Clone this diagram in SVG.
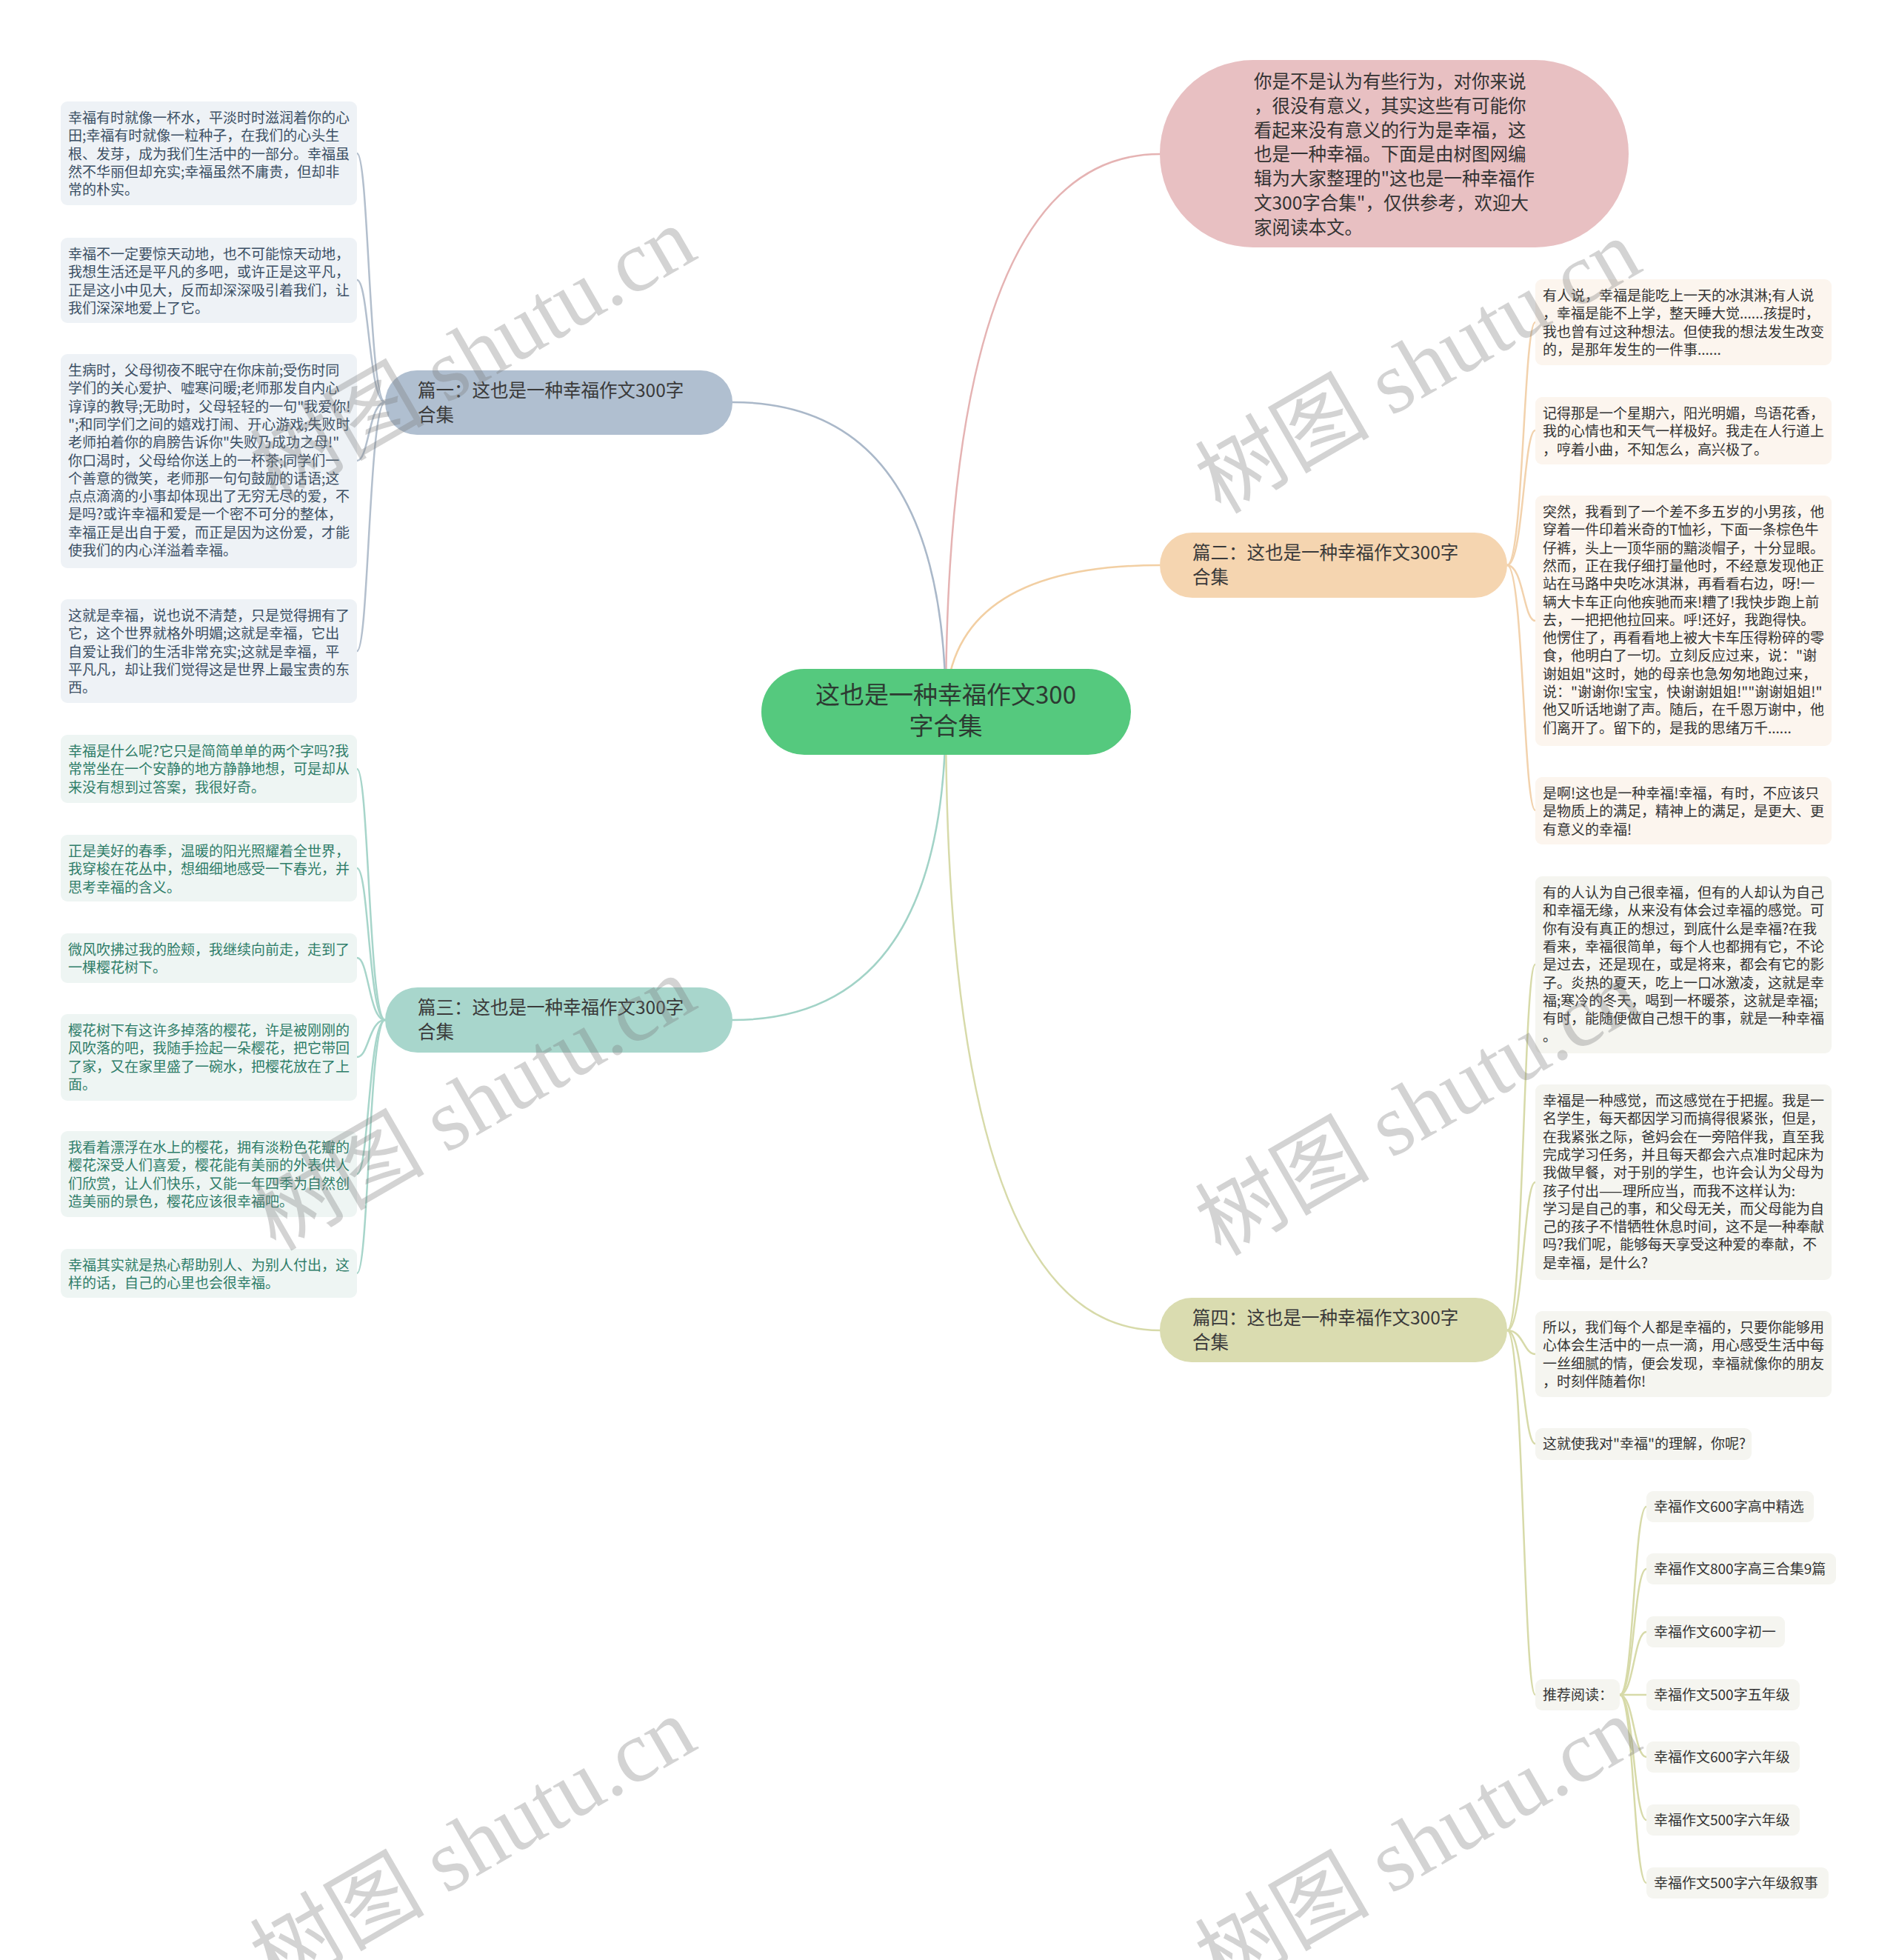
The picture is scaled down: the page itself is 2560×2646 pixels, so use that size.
<svg xmlns="http://www.w3.org/2000/svg" width="2560" height="2646" viewBox="0 0 2560 2646">
<style>
.t{font-family:"Noto Sans CJK SC","Noto Sans",sans-serif;font-size:19px}
.s1{fill:#3b4f64}
.s3{fill:#2f7d69}
.dk{fill:#333333}
.br{font-family:"Noto Sans CJK SC","Noto Sans",sans-serif;font-size:24.5px;fill:#3a3a3a}
.l1{fill:#eef2f6}
.l3{fill:#eef5f3}
.l2{fill:#fcf5ee}
.l4{fill:#f5f5f0}
.c{fill:none;stroke-width:2.5;stroke-linecap:round}
.wm{font-family:"Liberation Serif","Noto Sans CJK SC",serif;font-size:118px;fill:#787878;fill-opacity:0.33}
</style>
<rect width="2560" height="2646" fill="#ffffff"/>
<g id="connectors">
<path class="c" stroke="#e5b3b3" d="M1277 961 Q1277 208 1566 208"/>
<path class="c" stroke="#aab8c9" d="M1277 961 Q1277 543 989 543"/>
<path class="c" stroke="#f2cfa3" d="M1277 961 Q1277 763 1566 763"/>
<path class="c" stroke="#a2d3c7" d="M1277 961 Q1277 1377 989 1377"/>
<path class="c" stroke="#d7daa9" d="M1277 961 Q1277 1796 1566 1796"/>
<g stroke="#b3bfcd" class="c" stroke-width="2">
<path d="M520 543 C498 543 498 207 482 207"/>
<path d="M520 543 C498 543 498 378 482 378"/>
<path d="M520 543 C498 543 498 622 482 622"/>
<path d="M520 543 C498 543 498 879 482 879"/>
</g>
<g stroke="#a7d5ca" class="c" stroke-width="2">
<path d="M520 1377 C498 1377 498 1038 482 1038"/>
<path d="M520 1377 C498 1377 498 1172 482 1172"/>
<path d="M520 1377 C498 1377 498 1293 482 1293"/>
<path d="M520 1377 C498 1377 498 1427 482 1427"/>
<path d="M520 1377 C498 1377 498 1585 482 1585"/>
<path d="M520 1377 C498 1377 498 1719 482 1719"/>
</g>
<g stroke="#f2d2ad" class="c" stroke-width="2">
<path d="M2035 763 C2057 763 2057 435 2073 435"/>
<path d="M2035 763 C2057 763 2057 581 2073 581"/>
<path d="M2035 763 C2057 763 2057 838 2073 838"/>
<path d="M2035 763 C2057 763 2057 1094 2073 1094"/>
</g>
<g stroke="#d7daa9" class="c" stroke-width="2">
<path d="M2035 1796 C2057 1796 2057 1302 2073 1302"/>
<path d="M2035 1796 C2057 1796 2057 1596 2073 1596"/>
<path d="M2035 1796 C2057 1796 2057 1828 2073 1828"/>
<path d="M2035 1796 C2057 1796 2057 1949 2073 1949"/>
<path d="M2035 1796 C2057 1796 2057 2288 2073 2288"/>
<path d="M2187 2288 C2206 2288 2206 2034 2223 2034"/>
<path d="M2187 2288 C2206 2288 2206 2118 2223 2118"/>
<path d="M2187 2288 C2206 2288 2206 2203 2223 2203"/>
<path d="M2187 2288 L2223 2288"/>
<path d="M2187 2288 C2206 2288 2206 2372 2223 2372"/>
<path d="M2187 2288 C2206 2288 2206 2457 2223 2457"/>
<path d="M2187 2288 C2206 2288 2206 2542 2223 2542"/>
</g>
</g>
<g id="center">
<rect x="1028" y="903" width="499" height="116" rx="58" fill="#55c97e"/>
<text x="1277" y="950" text-anchor="middle" font-family="Noto Sans CJK SC, sans-serif" font-size="33" fill="#2d3a32">这也是一种幸福作文300</text>
<text x="1277" y="992" text-anchor="middle" font-family="Noto Sans CJK SC, sans-serif" font-size="33" fill="#2d3a32">字合集</text>
</g>
<g id="intro">
<rect x="1566" y="81" width="633" height="253" rx="126" fill="#e8c0c2"/>
<text font-family="Noto Sans CJK SC, sans-serif" font-size="24.5" fill="#333">
<tspan x="1693" y="119">你是不是认为有些行为，对你来说</tspan>
<tspan x="1693" dy="32.8">，很没有意义，其实这些有可能你</tspan>
<tspan x="1693" dy="32.8">看起来没有意义的行为是幸福，这</tspan>
<tspan x="1693" dy="32.8">也是一种幸福。下面是由树图网编</tspan>
<tspan x="1693" dy="32.8">辑为大家整理的"这也是一种幸福作</tspan>
<tspan x="1693" dy="32.8">文300字合集"，仅供参考，欢迎大</tspan>
<tspan x="1693" dy="32.8">家阅读本文。</tspan>
</text>
</g>
<g id="b1">
<rect x="520" y="500" width="469" height="87" rx="43" fill="#b0bfd0"/>
<text class="br"><tspan x="564" y="536">篇一：这也是一种幸福作文300字</tspan><tspan x="564" dy="33">合集</tspan></text>
</g>
<g id="b2">
<rect x="1566" y="719" width="469" height="88" rx="44" fill="#f5d5b0"/>
<text class="br"><tspan x="1610" y="755">篇二：这也是一种幸福作文300字</tspan><tspan x="1610" dy="33">合集</tspan></text>
</g>
<g id="b3">
<rect x="520" y="1333" width="469" height="88" rx="44" fill="#a8d6cc"/>
<text class="br"><tspan x="564" y="1369">篇三：这也是一种幸福作文300字</tspan><tspan x="564" dy="33">合集</tspan></text>
</g>
<g id="b4">
<rect x="1566" y="1752" width="469" height="87" rx="43" fill="#dadcb0"/>
<text class="br"><tspan x="1610" y="1788">篇四：这也是一种幸福作文300字</tspan><tspan x="1610" dy="33">合集</tspan></text>
</g>
<g id="n1-1">
<rect class="l1" x="82" y="137" width="400" height="140" rx="9"/>
<text class="t s1"><tspan x="92" y="166">幸福有时就像一杯水，平淡时时滋润着你的心</tspan><tspan x="92" dy="24.3">田;幸福有时就像一粒种子，在我们的心头生</tspan><tspan x="92" dy="24.3">根、发芽，成为我们生活中的一部分。幸福虽</tspan><tspan x="92" dy="24.3">然不华丽但却充实;幸福虽然不庸贵，但却非</tspan><tspan x="92" dy="24.3">常的朴实。</tspan></text>
</g>
<g id="n1-2">
<rect class="l1" x="82" y="321" width="400" height="115" rx="9"/>
<text class="t s1"><tspan x="92" y="350">幸福不一定要惊天动地，也不可能惊天动地，</tspan><tspan x="92" dy="24.3">我想生活还是平凡的多吧，或许正是这平凡，</tspan><tspan x="92" dy="24.3">正是这小中见大，反而却深深吸引着我们，让</tspan><tspan x="92" dy="24.3">我们深深地爱上了它。</tspan></text>
</g>
<g id="n1-3">
<rect class="l1" x="82" y="478" width="400" height="289" rx="9"/>
<text class="t s1"><tspan x="92" y="507">生病时，父母彻夜不眠守在你床前;受伤时同</tspan><tspan x="92" dy="24.3">学们的关心爱护、嘘寒问暖;老师那发自内心</tspan><tspan x="92" dy="24.3">谆谆的教导;无助时，父母轻轻的一句"我爱你!</tspan><tspan x="92" dy="24.3">";和同学们之间的嬉戏打闹、开心游戏;失败时</tspan><tspan x="92" dy="24.3">老师拍着你的肩膀告诉你"失败乃成功之母!"</tspan><tspan x="92" dy="24.3">你口渴时，父母给你送上的一杯茶;同学们一</tspan><tspan x="92" dy="24.3">个善意的微笑，老师那一句句鼓励的话语;这</tspan><tspan x="92" dy="24.3">点点滴滴的小事却体现出了无穷无尽的爱，不</tspan><tspan x="92" dy="24.3">是吗?或许幸福和爱是一个密不可分的整体，</tspan><tspan x="92" dy="24.3">幸福正是出自于爱，而正是因为这份爱，才能</tspan><tspan x="92" dy="24.3">使我们的内心洋溢着幸福。</tspan></text>
</g>
<g id="n1-4">
<rect class="l1" x="82" y="809" width="400" height="140" rx="9"/>
<text class="t s1"><tspan x="92" y="838">这就是幸福，说也说不清楚，只是觉得拥有了</tspan><tspan x="92" dy="24.3">它，这个世界就格外明媚;这就是幸福，它出</tspan><tspan x="92" dy="24.3">自爱让我们的生活非常充实;这就是幸福，平</tspan><tspan x="92" dy="24.3">平凡凡，却让我们觉得这是世界上最宝贵的东</tspan><tspan x="92" dy="24.3">西。</tspan></text>
</g>
<g id="n3-1">
<rect class="l3" x="82" y="992" width="400" height="92" rx="9"/>
<text class="t s3"><tspan x="92" y="1021">幸福是什么呢?它只是简简单单的两个字吗?我</tspan><tspan x="92" dy="24.3">常常坐在一个安静的地方静静地想，可是却从</tspan><tspan x="92" dy="24.3">来没有想到过答案，我很好奇。</tspan></text>
</g>
<g id="n3-2">
<rect class="l3" x="82" y="1127" width="400" height="90" rx="9"/>
<text class="t s3"><tspan x="92" y="1156">正是美好的春季，温暖的阳光照耀着全世界，</tspan><tspan x="92" dy="24.3">我穿梭在花丛中，想细细地感受一下春光，并</tspan><tspan x="92" dy="24.3">思考幸福的含义。</tspan></text>
</g>
<g id="n3-3">
<rect class="l3" x="82" y="1260" width="400" height="67" rx="9"/>
<text class="t s3"><tspan x="92" y="1289">微风吹拂过我的脸颊，我继续向前走，走到了</tspan><tspan x="92" dy="24.3">一棵樱花树下。</tspan></text>
</g>
<g id="n3-4">
<rect class="l3" x="82" y="1369" width="400" height="117" rx="9"/>
<text class="t s3"><tspan x="92" y="1398">樱花树下有这许多掉落的樱花，许是被刚刚的</tspan><tspan x="92" dy="24.3">风吹落的吧，我随手捡起一朵樱花，把它带回</tspan><tspan x="92" dy="24.3">了家，又在家里盛了一碗水，把樱花放在了上</tspan><tspan x="92" dy="24.3">面。</tspan></text>
</g>
<g id="n3-5">
<rect class="l3" x="82" y="1527" width="400" height="116" rx="9"/>
<text class="t s3"><tspan x="92" y="1556">我看着漂浮在水上的樱花，拥有淡粉色花瓣的</tspan><tspan x="92" dy="24.3">樱花深受人们喜爱，樱花能有美丽的外表供人</tspan><tspan x="92" dy="24.3">们欣赏，让人们快乐，又能一年四季为自然创</tspan><tspan x="92" dy="24.3">造美丽的景色，樱花应该很幸福吧。</tspan></text>
</g>
<g id="n3-6">
<rect class="l3" x="82" y="1686" width="400" height="66" rx="9"/>
<text class="t s3"><tspan x="92" y="1715">幸福其实就是热心帮助别人、为别人付出，这</tspan><tspan x="92" dy="24.3">样的话，自己的心里也会很幸福。</tspan></text>
</g>
<g id="n2-1">
<rect class="l2" x="2073" y="377" width="400" height="116" rx="9"/>
<text class="t dk"><tspan x="2083" y="406">有人说，幸福是能吃上一天的冰淇淋;有人说</tspan><tspan x="2083" dy="24.3">，幸福是能不上学，整天睡大觉......孩提时，</tspan><tspan x="2083" dy="24.3">我也曾有过这种想法。但使我的想法发生改变</tspan><tspan x="2083" dy="24.3">的，是那年发生的一件事......</tspan></text>
</g>
<g id="n2-2">
<rect class="l2" x="2073" y="536" width="400" height="91" rx="9"/>
<text class="t dk"><tspan x="2083" y="565">记得那是一个星期六，阳光明媚，鸟语花香，</tspan><tspan x="2083" dy="24.3">我的心情也和天气一样极好。我走在人行道上</tspan><tspan x="2083" dy="24.3">，哼着小曲，不知怎么，高兴极了。</tspan></text>
</g>
<g id="n2-3">
<rect class="l2" x="2073" y="669" width="400" height="338" rx="9"/>
<text class="t dk"><tspan x="2083" y="698">突然，我看到了一个差不多五岁的小男孩，他</tspan><tspan x="2083" dy="24.3">穿着一件印着米奇的T恤衫，下面一条棕色牛</tspan><tspan x="2083" dy="24.3">仔裤，头上一顶华丽的黯淡帽子，十分显眼。</tspan><tspan x="2083" dy="24.3">然而，正在我仔细打量他时，不经意发现他正</tspan><tspan x="2083" dy="24.3">站在马路中央吃冰淇淋，再看看右边，呀!一</tspan><tspan x="2083" dy="24.3">辆大卡车正向他疾驰而来!糟了!我快步跑上前</tspan><tspan x="2083" dy="24.3">去，一把把他拉回来。呼!还好，我跑得快。</tspan><tspan x="2083" dy="24.3">他愣住了，再看看地上被大卡车压得粉碎的零</tspan><tspan x="2083" dy="24.3">食，他明白了一切。立刻反应过来，说："谢</tspan><tspan x="2083" dy="24.3">谢姐姐"这时，她的母亲也急匆匆地跑过来，</tspan><tspan x="2083" dy="24.3">说："谢谢你!宝宝，快谢谢姐姐!""谢谢姐姐!"</tspan><tspan x="2083" dy="24.3">他又听话地谢了声。随后，在千恩万谢中，他</tspan><tspan x="2083" dy="24.3">们离开了。留下的，是我的思绪万千......</tspan></text>
</g>
<g id="n2-4">
<rect class="l2" x="2073" y="1049" width="400" height="91" rx="9"/>
<text class="t dk"><tspan x="2083" y="1078">是啊!这也是一种幸福!幸福，有时，不应该只</tspan><tspan x="2083" dy="24.3">是物质上的满足，精神上的满足，是更大、更</tspan><tspan x="2083" dy="24.3">有意义的幸福!</tspan></text>
</g>
<g id="n4-1">
<rect class="l4" x="2073" y="1183" width="400" height="239" rx="9"/>
<text class="t dk"><tspan x="2083" y="1212">有的人认为自己很幸福，但有的人却认为自己</tspan><tspan x="2083" dy="24.3">和幸福无缘，从来没有体会过幸福的感觉。可</tspan><tspan x="2083" dy="24.3">你有没有真正的想过，到底什么是幸福?在我</tspan><tspan x="2083" dy="24.3">看来，幸福很简单，每个人也都拥有它，不论</tspan><tspan x="2083" dy="24.3">是过去，还是现在，或是将来，都会有它的影</tspan><tspan x="2083" dy="24.3">子。炎热的夏天，吃上一口冰激凌，这就是幸</tspan><tspan x="2083" dy="24.3">福;寒冷的冬天，喝到一杯暖茶，这就是幸福;</tspan><tspan x="2083" dy="24.3">有时，能随便做自己想干的事，就是一种幸福</tspan><tspan x="2083" dy="24.3">。</tspan></text>
</g>
<g id="n4-2">
<rect class="l4" x="2073" y="1464" width="400" height="264" rx="9"/>
<text class="t dk"><tspan x="2083" y="1493">幸福是一种感觉，而这感觉在于把握。我是一</tspan><tspan x="2083" dy="24.3">名学生，每天都因学习而搞得很紧张，但是，</tspan><tspan x="2083" dy="24.3">在我紧张之际，爸妈会在一旁陪伴我，直至我</tspan><tspan x="2083" dy="24.3">完成学习任务，并且每天都会六点准时起床为</tspan><tspan x="2083" dy="24.3">我做早餐，对于别的学生，也许会认为父母为</tspan><tspan x="2083" dy="24.3">孩子付出——理所应当，而我不这样认为:</tspan><tspan x="2083" dy="24.3">学习是自己的事，和父母无关，而父母能为自</tspan><tspan x="2083" dy="24.3">己的孩子不惜牺牲休息时间，这不是一种奉献</tspan><tspan x="2083" dy="24.3">吗?我们呢，能够每天享受这种爱的奉献，不</tspan><tspan x="2083" dy="24.3">是幸福，是什么?</tspan></text>
</g>
<g id="n4-3">
<rect class="l4" x="2073" y="1770" width="400" height="116" rx="9"/>
<text class="t dk"><tspan x="2083" y="1799">所以，我们每个人都是幸福的，只要你能够用</tspan><tspan x="2083" dy="24.3">心体会生活中的一点一滴，用心感受生活中每</tspan><tspan x="2083" dy="24.3">一丝细腻的情，便会发现，幸福就像你的朋友</tspan><tspan x="2083" dy="24.3">，时刻伴随着你!</tspan></text>
</g>
<g id="n4-4">
<rect class="l4" x="2073" y="1928" width="292" height="43" rx="9"/>
<text class="t dk" x="2083" y="1956">这就使我对"幸福"的理解，你呢?</text>
</g>
<g id="n4-5">
<rect class="l4" x="2073" y="2267" width="114" height="42" rx="9"/>
<text class="t dk" x="2083" y="2295">推荐阅读：</text>
</g>
<g id="r1"><rect class="l4" x="2223" y="2013" width="226" height="42" rx="9"/><text class="t dk" x="2233" y="2041">幸福作文600字高中精选</text></g>
<g id="r2"><rect class="l4" x="2223" y="2097" width="256" height="42" rx="9"/><text class="t dk" x="2233" y="2125">幸福作文800字高三合集9篇</text></g>
<g id="r3"><rect class="l4" x="2223" y="2182" width="187" height="42" rx="9"/><text class="t dk" x="2233" y="2210">幸福作文600字初一</text></g>
<g id="r4"><rect class="l4" x="2223" y="2267" width="207" height="42" rx="9"/><text class="t dk" x="2233" y="2295">幸福作文500字五年级</text></g>
<g id="r5"><rect class="l4" x="2223" y="2351" width="207" height="42" rx="9"/><text class="t dk" x="2233" y="2379">幸福作文600字六年级</text></g>
<g id="r6"><rect class="l4" x="2223" y="2436" width="207" height="42" rx="9"/><text class="t dk" x="2233" y="2464">幸福作文500字六年级</text></g>
<g id="r7"><rect class="l4" x="2223" y="2521" width="246" height="42" rx="9"/><text class="t dk" x="2233" y="2549">幸福作文500字六年级叙事</text></g>
<g id="watermarks">
<text class="wm" transform="translate(372 678) rotate(-30)">树图 shutu.cn</text>
<text class="wm" transform="translate(1648 695) rotate(-30)">树图 shutu.cn</text>
<text class="wm" transform="translate(372 1690) rotate(-30)">树图 shutu.cn</text>
<text class="wm" transform="translate(1648 1697) rotate(-30)">树图 shutu.cn</text>
<text class="wm" transform="translate(372 2690) rotate(-30)">树图 shutu.cn</text>
<text class="wm" transform="translate(1648 2690) rotate(-30)">树图 shutu.cn</text>
</g>
</svg>
